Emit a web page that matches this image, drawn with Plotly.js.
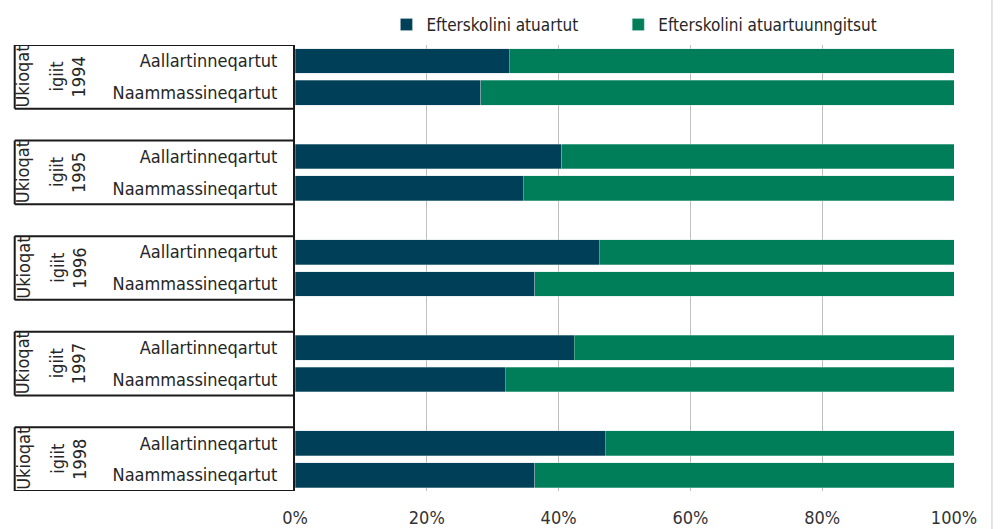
<!DOCTYPE html>
<html>
<head>
<meta charset="utf-8">
<script src="https://cdn.plot.ly/plotly-3.0.1.min.js"></script>
<style>html,body{margin:0;padding:0;background:#fff;}#chart{width:1000px;height:529px;}</style>
</head>
<body>
<div id="chart"></div>
<script>
// ---- data ----
const years = ['1994', '1995', '1996', '1997', '1998'];
const rowLabels = ['Aallartinneqartut', 'Naammassineqartut'];
const groupWord1 = 'Ukioqat';
const groupWord2 = 'igiit';
const seriesNames = ['Efterskolini atuartut', 'Efterskolini atuartuunngitsut'];
// Efterskolini atuartut (%)
const attendedStarted   = [32.5, 40.5, 46.2, 42.4, 47.1];
const attendedCompleted = [28.2, 34.6, 36.4, 31.9, 36.4];
// Efterskolini atuartuunngitsut (%)
const notAttendedStarted   = [67.5, 59.5, 53.8, 57.6, 52.9];
const notAttendedCompleted = [71.8, 65.4, 63.6, 68.1, 63.6];
const xTicks = [0, 20, 40, 60, 80, 100];
const xTickLabels = ['0%', '20%', '40%', '60%', '80%', '100%'];

// ---- layout helpers ----
const FONT = 'DejaVu Sans Condensed, Liberation Sans Narrow, Roboto, sans-serif';
const slot = (g, k) => g * 3 + k;       // row slot: two bars + one gap per group
const plotL = 294.5, plotW = 659.5;
const px2paper = p => (p - plotL) / plotW;

const yPos = [], xA = [], xN = [], tickText = [];
years.forEach((yr, g) => {
  [[attendedStarted, notAttendedStarted], [attendedCompleted, notAttendedCompleted]].forEach((pair, k) => {
    yPos.push(slot(g, k));
    xA.push(pair[0][g]);
    xN.push(pair[1][g]);
    tickText.push(rowLabels[k]);
  });
});

const traces = [
  {type: 'bar', orientation: 'h', name: seriesNames[0], x: xA, y: yPos, width: 0.78, legend: 'legend',
   marker: {color: '#003f58', line: {color: 'rgba(200,215,220,0.6)', width: 0.6}}, hoverinfo: 'x'},
  {type: 'bar', orientation: 'h', name: seriesNames[1], x: xN, y: yPos, width: 0.78, legend: 'legend2',
   marker: {color: '#007e5a', line: {color: 'rgba(200,225,215,0.6)', width: 0.6}}, hoverinfo: 'x'}
];

const shapes = [];
const annotations = [];
const lineStyle = {color: '#1a1a1a', width: 2};
const leftX = px2paper(14);
years.forEach((yr, g) => {
  const top = slot(g, 0) - 0.5, bot = slot(g, 1) + 0.5;
  shapes.push({type: 'line', xref: 'paper', yref: 'y', x0: leftX, x1: 0, y0: top, y1: top, line: lineStyle});
  shapes.push({type: 'line', xref: 'paper', yref: 'y', x0: leftX, x1: 0, y0: bot, y1: bot, line: lineStyle});
  shapes.push({type: 'line', xref: 'paper', yref: 'y', x0: leftX, x1: leftX, y0: top, y1: bot, line: lineStyle});
  const yc = (top + bot) / 2;
  [[groupWord1, 22], [groupWord2, 56], [yr, 78]].forEach(([t, p]) => {
    annotations.push({xref: 'paper', yref: 'y', x: px2paper(p), y: yc, text: t, textangle: -90,
      showarrow: false, xanchor: 'center', yanchor: 'middle',
      font: {family: FONT, size: 18, color: '#262626'}});
  });
});
// light chart frame at the right edge
shapes.push({type: 'line', xref: 'paper', yref: 'paper', x0: px2paper(992), x1: px2paper(992), y0: -0.2, y1: 1.2,
  line: {color: '#c8c8c8', width: 1}});

const legendBase = {orientation: 'h', xanchor: 'left', y: 1 + 20 / 446, yanchor: 'middle',
  font: {family: FONT, size: 17, color: '#262626'}, itemclick: false, bgcolor: 'rgba(0,0,0,0)'};

const layout = {
  width: 1000, height: 529,
  margin: {l: 294.5, r: 46, t: 45, b: 38, pad: 0, autoexpand: false},
  paper_bgcolor: '#ffffff', plot_bgcolor: '#ffffff',
  barmode: 'stack',
  showlegend: true,
  legend: Object.assign({}, legendBase, {x: px2paper(386)}),
  legend2: Object.assign({}, legendBase, {x: px2paper(618)}),
  xaxis: {range: [0, 100], tickvals: xTicks, ticktext: xTickLabels, showgrid: true, gridcolor: '#bfbfbf', gridwidth: 1,
    zeroline: false, showline: false, ticks: '', tickfont: {family: FONT, size: 18, color: '#333333'},
    ticklabelstandoff: 14, fixedrange: true, automargin: false},
  yaxis: {range: [13.5, -0.5], tickvals: yPos, ticktext: tickText, showgrid: false, zeroline: false,
    showline: true, linecolor: '#1a1a1a', linewidth: 2, ticks: '', ticklabelstandoff: 12,
    tickfont: {family: FONT, size: 18, color: '#262626'}, fixedrange: true, automargin: false},
  shapes: shapes,
  annotations: annotations
};

Plotly.newPlot('chart', traces, layout, {displayModeBar: false, staticPlot: true});
</script>
</body>
</html>
